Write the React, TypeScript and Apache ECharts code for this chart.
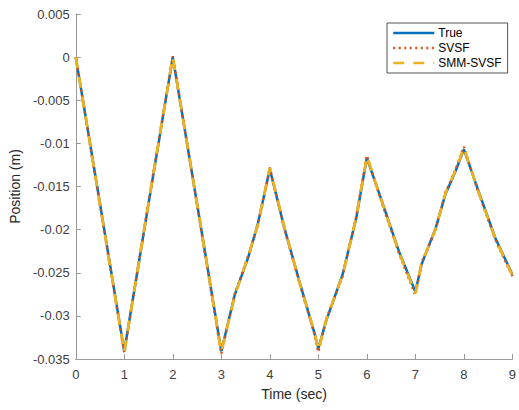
import React, { useEffect, useRef } from "react";
import * as echarts from "echarts";

const seriesNames = ["True", "SVSF", "SMM-SVSF"];
const timeValues = [0, 0.5, 1, 1.5, 2, 2.5, 3, 3.28, 3.55, 3.75, 4, 4.3, 4.61, 4.92, 5, 5.16, 5.5, 5.78, 6, 6.31, 6.66, 7, 7.13, 7.42, 7.62, 7.83, 8, 8.3, 8.65, 9];
const trueValues = [0, -0.017, -0.0341, -0.017, 0, -0.017, -0.0341, -0.0275, -0.0233, -0.0194, -0.013, -0.0198, -0.026, -0.032, -0.0338, -0.0306, -0.0252, -0.0187, -0.0117, -0.0167, -0.0225, -0.0272, -0.024, -0.0198, -0.0159, -0.0132, -0.0107, -0.0155, -0.021, -0.0252];
const svsfValues = [0, -0.0172, -0.0343, -0.0168, 0.0001, -0.0171, -0.0344, -0.0274, -0.0231, -0.0196, -0.0128, -0.0199, -0.0262, -0.0321, -0.0342, -0.0304, -0.0254, -0.0185, -0.0114, -0.0169, -0.0227, -0.0276, -0.0238, -0.02, -0.0157, -0.013, -0.0104, -0.0157, -0.0212, -0.0254];
const smmValues = [0, -0.0171, -0.0342, -0.0169, 0, -0.017, -0.0342, -0.0276, -0.0232, -0.0195, -0.0129, -0.0197, -0.0261, -0.0319, -0.034, -0.0305, -0.0253, -0.0186, -0.0115, -0.0168, -0.0226, -0.0274, -0.0239, -0.0199, -0.0158, -0.0131, -0.0105, -0.0156, -0.0211, -0.0253];

const colors = ["#0072BD", "#D95319", "#EDB120"];
const font = "Liberation Sans, Arial, Helvetica, sans-serif";

export default function App() {
  const ref = useRef<HTMLDivElement>(null);
  useEffect(() => {
    if (!ref.current) return;
    const chart = echarts.init(ref.current, undefined, { renderer: "svg" });
    const pair = (vals: number[]) => timeValues.map((t, i) => [t, vals[i]]);
    chart.setOption({
      animation: false,
      backgroundColor: "#fff",
      textStyle: { fontFamily: font },
      grid: { left: 75, right: 4, top: 14, bottom: 51, containLabel: false },
      legend: {
        orient: "vertical",
        left: 387,
        top: 23,
        data: seriesNames,
        itemWidth: 41,
        itemHeight: 14,
        itemGap: 3,
        padding: [4, 6, 4, 5],
        borderColor: "#555",
        borderWidth: 1,
        borderRadius: 0,
        backgroundColor: "#fff",
        itemStyle: { opacity: 0, borderWidth: 0 },
        lineStyle: { width: 2.5 },
        textStyle: { fontFamily: font, fontSize: 12, color: "#000", padding: [0, 0, 0, -1] },
      },
      xAxis: {
        type: "value",
        min: 0,
        max: 9,
        interval: 1,
        name: "Time (sec)",
        nameLocation: "middle",
        nameGap: 28,
        nameTextStyle: { fontFamily: font, fontSize: 14, color: "#262626" },
        axisLine: { show: true, onZero: false, lineStyle: { color: "#999", width: 1 } },
        axisTick: { show: true, inside: true, length: 5, lineStyle: { color: "#999" } },
        axisLabel: { fontFamily: font, fontSize: 13, color: "#404040", margin: 9 },
        splitLine: { show: false },
      },
      yAxis: {
        type: "value",
        min: -0.035,
        max: 0.005,
        interval: 0.005,
        name: "Position (m)",
        nameLocation: "middle",
        nameGap: 50,
        nameRotate: 90,
        nameTextStyle: { fontFamily: font, fontSize: 14, color: "#262626" },
        axisLine: { show: true, onZero: false, lineStyle: { color: "#999", width: 1 } },
        axisTick: { show: true, inside: true, length: 5, lineStyle: { color: "#999" } },
        axisLabel: {
          fontFamily: font,
          fontSize: 13,
          color: "#404040",
          margin: 6,
          formatter: (v: number) => String(Number(v.toFixed(3))),
        },
        splitLine: { show: false },
      },
      series: [
        {
          name: seriesNames[0],
          type: "line",
          data: pair(trueValues),
          showSymbol: false,
          symbol: "none",
          color: colors[0],
          lineStyle: { color: colors[0], width: 2.5, type: "solid" },
          z: 2,
        },
        {
          name: seriesNames[1],
          type: "line",
          data: pair(svsfValues),
          showSymbol: false,
          symbol: "none",
          color: colors[1],
          lineStyle: { color: colors[1], width: 2.5, type: [2, 3.5] },
          z: 3,
        },
        {
          name: seriesNames[2],
          type: "line",
          data: pair(smmValues),
          showSymbol: false,
          symbol: "none",
          color: colors[2],
          lineStyle: { color: colors[2], width: 2.8, type: [11, 9] },
          z: 4,
        },
      ],
    });
    return () => chart.dispose();
  }, []);
  return <div ref={ref} style={{ width: 519, height: 410, position: "absolute", left: 0, top: 0 }} />;
}
